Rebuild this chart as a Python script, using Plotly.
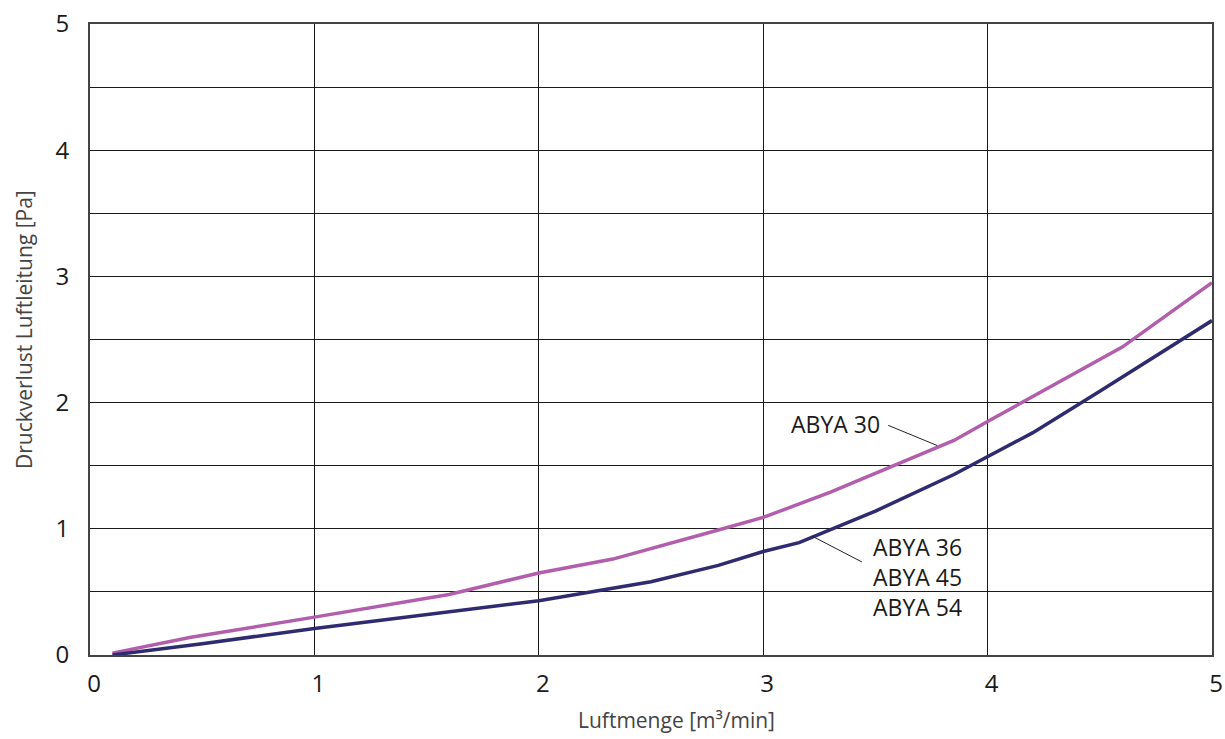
import plotly.graph_objects as go

# Data
x_abya30 = [0.1, 0.45, 1.0, 1.6, 2.0, 2.33, 2.8, 3.0, 3.3, 3.85, 4.0, 4.35, 4.6, 5.0]
y_abya30 = [0.015, 0.14, 0.30, 0.48, 0.65, 0.76, 0.99, 1.09, 1.29, 1.70, 1.85, 2.19, 2.44, 2.95]

x_abya36 = [0.1, 0.5, 1.0, 1.7, 2.0, 2.5, 2.8, 3.0, 3.16, 3.5, 3.85, 4.2, 4.5, 5.0]
y_abya36 = [0.0, 0.09, 0.21, 0.36, 0.43, 0.58, 0.71, 0.82, 0.89, 1.14, 1.43, 1.76, 2.09, 2.65]

x_ticks = [0, 1, 2, 3, 4, 5]
y_ticks = [0, 1, 2, 3, 4, 5]

label_30 = "ABYA 30"
label_36 = "ABYA 36<br>ABYA 45<br>ABYA 54"
x_title = "Luftmenge [m³/min]"
y_title = "Druckverlust Luftleitung [Pa]"

FONT = "Open Sans, Noto Sans, sans-serif"

fig = go.Figure()
fig.add_trace(go.Scatter(x=x_abya30, y=y_abya30, mode="lines",
                         line=dict(color="#b25eac", width=3.5), name="ABYA 30"))
fig.add_trace(go.Scatter(x=x_abya36, y=y_abya36, mode="lines",
                         line=dict(color="#2f2b70", width=3.5), name="ABYA 36/45/54"))

# Leader lines
fig.add_shape(type="line", x0=3.557, y0=1.82, x1=3.775, y1=1.66,
              line=dict(color="#222", width=1))
fig.add_shape(type="line", x0=3.217, y0=0.943, x1=3.44, y1=0.737,
              line=dict(color="#222", width=1))

fig.add_annotation(x=3.53, y=1.83, text=label_30, showarrow=False,
                   xanchor="right", yanchor="middle",
                   font=dict(family=FONT, size=23, color="#1a1a1a"))
fig.add_annotation(x=3.48, y=0.62, text=label_36, showarrow=False,
                   xanchor="left", yanchor="middle", align="left",
                   font=dict(family=FONT, size=23, color="#1a1a1a"))

# Axis titles
fig.add_annotation(xref="paper", yref="paper", x=0.523, y=0, yshift=-65,
                   text=x_title, showarrow=False, xanchor="center", yanchor="middle",
                   font=dict(family=FONT, size=21, color="#444"))
fig.add_annotation(xref="paper", yref="paper", x=0, y=0.515, xshift=-66,
                   text=y_title, showarrow=False, textangle=-90,
                   xanchor="center", yanchor="middle",
                   font=dict(family=FONT, size=21, color="#444"))

fig.update_layout(
    width=1225, height=739,
    margin=dict(l=90, r=13, t=24, b=84),
    paper_bgcolor="white", plot_bgcolor="white",
    showlegend=False,
    font=dict(family=FONT, color="#1a1a1a"),
    xaxis=dict(range=[0, 5], tickvals=x_ticks, showgrid=True, automargin=False,
               gridcolor="#1a1a1a", gridwidth=1, zeroline=False,
               showline=True, linecolor="#444", linewidth=2, mirror=True,
               ticks="", tickfont=dict(size=24, family=FONT, color="#1a1a1a"),
               ticklabelstandoff=6, ticklabelshift=4),
    yaxis=dict(range=[0, 5], tickvals=y_ticks, showgrid=True, automargin=False,
               gridcolor="#1a1a1a", gridwidth=1, zeroline=False,
               showline=True, linecolor="#444", linewidth=2, mirror=True,
               ticks="", tickfont=dict(size=24, family=FONT, color="#1a1a1a"),
               ticklabelstandoff=14,
               minor=dict(dtick=0.5, showgrid=True, gridcolor="#1a1a1a", gridwidth=1)),
)

fig.write_html("out.html", config={"displayModeBar": False},
               post_script="document.body.style.margin='0';document.body.style.overflow='hidden';")
